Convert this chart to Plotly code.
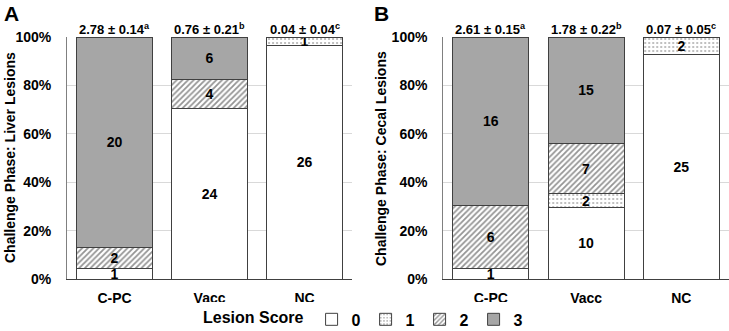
import plotly.graph_objects as go

groups = ["C-PC", "Vacc", "NC"]
scores = ["0", "1", "2", "3"]

liver_counts = {
    "0": [1, 24, 26],
    "1": [0, 0, 1],
    "2": [2, 4, 0],
    "3": [20, 6, 0],
}
cecal_counts = {
    "0": [1, 10, 25],
    "1": [0, 2, 2],
    "2": [6, 7, 0],
    "3": [16, 15, 0],
}
liver_means = ["2.78 ± 0.14<sup>a</sup>", "0.76 ± 0.21<sup>b</sup>", "0.04 ± 0.04<sup>c</sup>"]
cecal_means = ["2.61 ± 0.15<sup>a</sup>", "1.78 ± 0.22<sup>b</sup>", "0.07 ± 0.05<sup>c</sup>"]
y_ticks = [0, 20, 40, 60, 80, 100]
y_ticklabels = ["0%", "20%", "40%", "60%", "80%", "100%"]

FONT = "Liberation Sans, Arial, sans-serif"
EDGE = "#404040"

styles = {
    "0": dict(color="white", pattern=dict(shape="")),
    "1": dict(color="white", pattern=dict(shape=".", fgcolor="#555555", bgcolor="white", size=4, solidity=0.2)),
    "2": dict(color="white", pattern=dict(shape="/", fgcolor="#2a2a2a", bgcolor="white", size=4, solidity=0.45)),
    "3": dict(color="#a6a6a6", pattern=dict(shape="")),
}

fig = go.Figure()

def add_panel(counts, xa, ya, show):
    totals = [sum(counts[s][i] for s in scores) for i in range(len(groups))]
    for s in scores:
        vals = counts[s]
        pct = [v / t * 100 for v, t in zip(vals, totals)]
        st = styles[s]
        fig.add_trace(go.Bar(
            x=groups, y=pct, name=s, legendgroup=s, showlegend=show,
            xaxis=xa, yaxis=ya, width=0.8,
            text=[str(v) if v > 0 else "" for v in vals],
            textposition="inside", insidetextanchor="middle", textangle=0,
            textfont=dict(family=FONT, size=14, color="black", weight="bold"),
            marker=dict(color=st["color"], pattern=st["pattern"],
                        line=dict(color=EDGE, width=1)),
            hoverinfo="skip",
        ))

add_panel(liver_counts, "x", "y", True)
add_panel(cecal_counts, "x2", "y2", False)

axis_font = dict(family=FONT, size=14, color="black", weight="bold")
common_x = dict(range=[-0.5, 2.5], showline=True, linecolor="#404040", linewidth=1,
                tickfont=axis_font, ticks="", ticklabelstandoff=6, showgrid=False,
                automargin=False, fixedrange=True)
common_y = dict(range=[0, 100], tickvals=y_ticks, ticktext=y_ticklabels,
                showline=True, linecolor="#808080", linewidth=1,
                showgrid=True, gridcolor="#d9d9d9", gridwidth=1,
                tickfont=axis_font, ticks="", ticklabelstandoff=12, zeroline=False,
                automargin=False)

fig.update_layout(
    width=729, height=331,
    margin=dict(l=0, r=0, t=37, b=52, autoexpand=False),
    paper_bgcolor="white", plot_bgcolor="white",
    barmode="stack",
    bargap=0.2,
    uniformtext=dict(mode="show", minsize=14),
    font=dict(family=FONT, color="black"),
    xaxis=dict(domain=[0.092, 0.483], anchor="y", **common_x),
    yaxis=dict(domain=[0, 1], anchor="x", **common_y),
    xaxis2=dict(domain=[0.608, 1.0], anchor="y2", **common_x),
    yaxis2=dict(domain=[0, 1], anchor="x2", **common_y),
    legend=dict(orientation="h", x=0.5, xanchor="center",
                yref="container", y=0.035, yanchor="middle",
                title=dict(text="Lesion Score", side="left",
                           font=dict(family=FONT, size=16, color="black", weight="bold")),
                font=dict(family=FONT, size=16, color="black", weight="bold"),
                itemwidth=30, tracegroupgap=0, traceorder="normal"),
    showlegend=True,
)

annots = []
for xa, means in (("x", liver_means), ("x2", cecal_means)):
    for g, m in zip(groups, means):
        annots.append(dict(x=g, xref=xa, y=1, yref=("y domain" if xa == "x" else "y2 domain"),
                           text=m, showarrow=False, yanchor="bottom", yshift=-2,
                           font=dict(family=FONT, size=13, color="black", weight="bold")))
annots.append(dict(x=0.003, y=1.0, xref="paper", yref="paper", yanchor="top", xanchor="left",
                   yshift=37, text="A", showarrow=False,
                   font=dict(family=FONT, size=21, color="black", weight="bold")))
annots.append(dict(x=0.51, y=1.0, xref="paper", yref="paper", yanchor="top", xanchor="left",
                   yshift=37, text="B", showarrow=False,
                   font=dict(family=FONT, size=21, color="black", weight="bold")))
annots.append(dict(x=10 / 729, y=0.5, xref="paper", yref="y domain", xanchor="center",
                   yanchor="middle", textangle=-90, text="Challenge Phase: Liver Lesions",
                   showarrow=False, font=dict(family=FONT, size=14, color="black", weight="bold")))
annots.append(dict(x=381 / 729, y=0.5, xref="paper", yref="y2 domain", xanchor="center",
                   yanchor="middle", textangle=-90, text="Challenge Phase: Cecal Lesions",
                   showarrow=False, font=dict(family=FONT, size=14, color="black", weight="bold")))
fig.update_layout(annotations=annots)

fig.write_html("out.html", config={"displayModeBar": False},
               post_script="document.body.style.margin='0px';document.body.style.overflow='hidden';")
